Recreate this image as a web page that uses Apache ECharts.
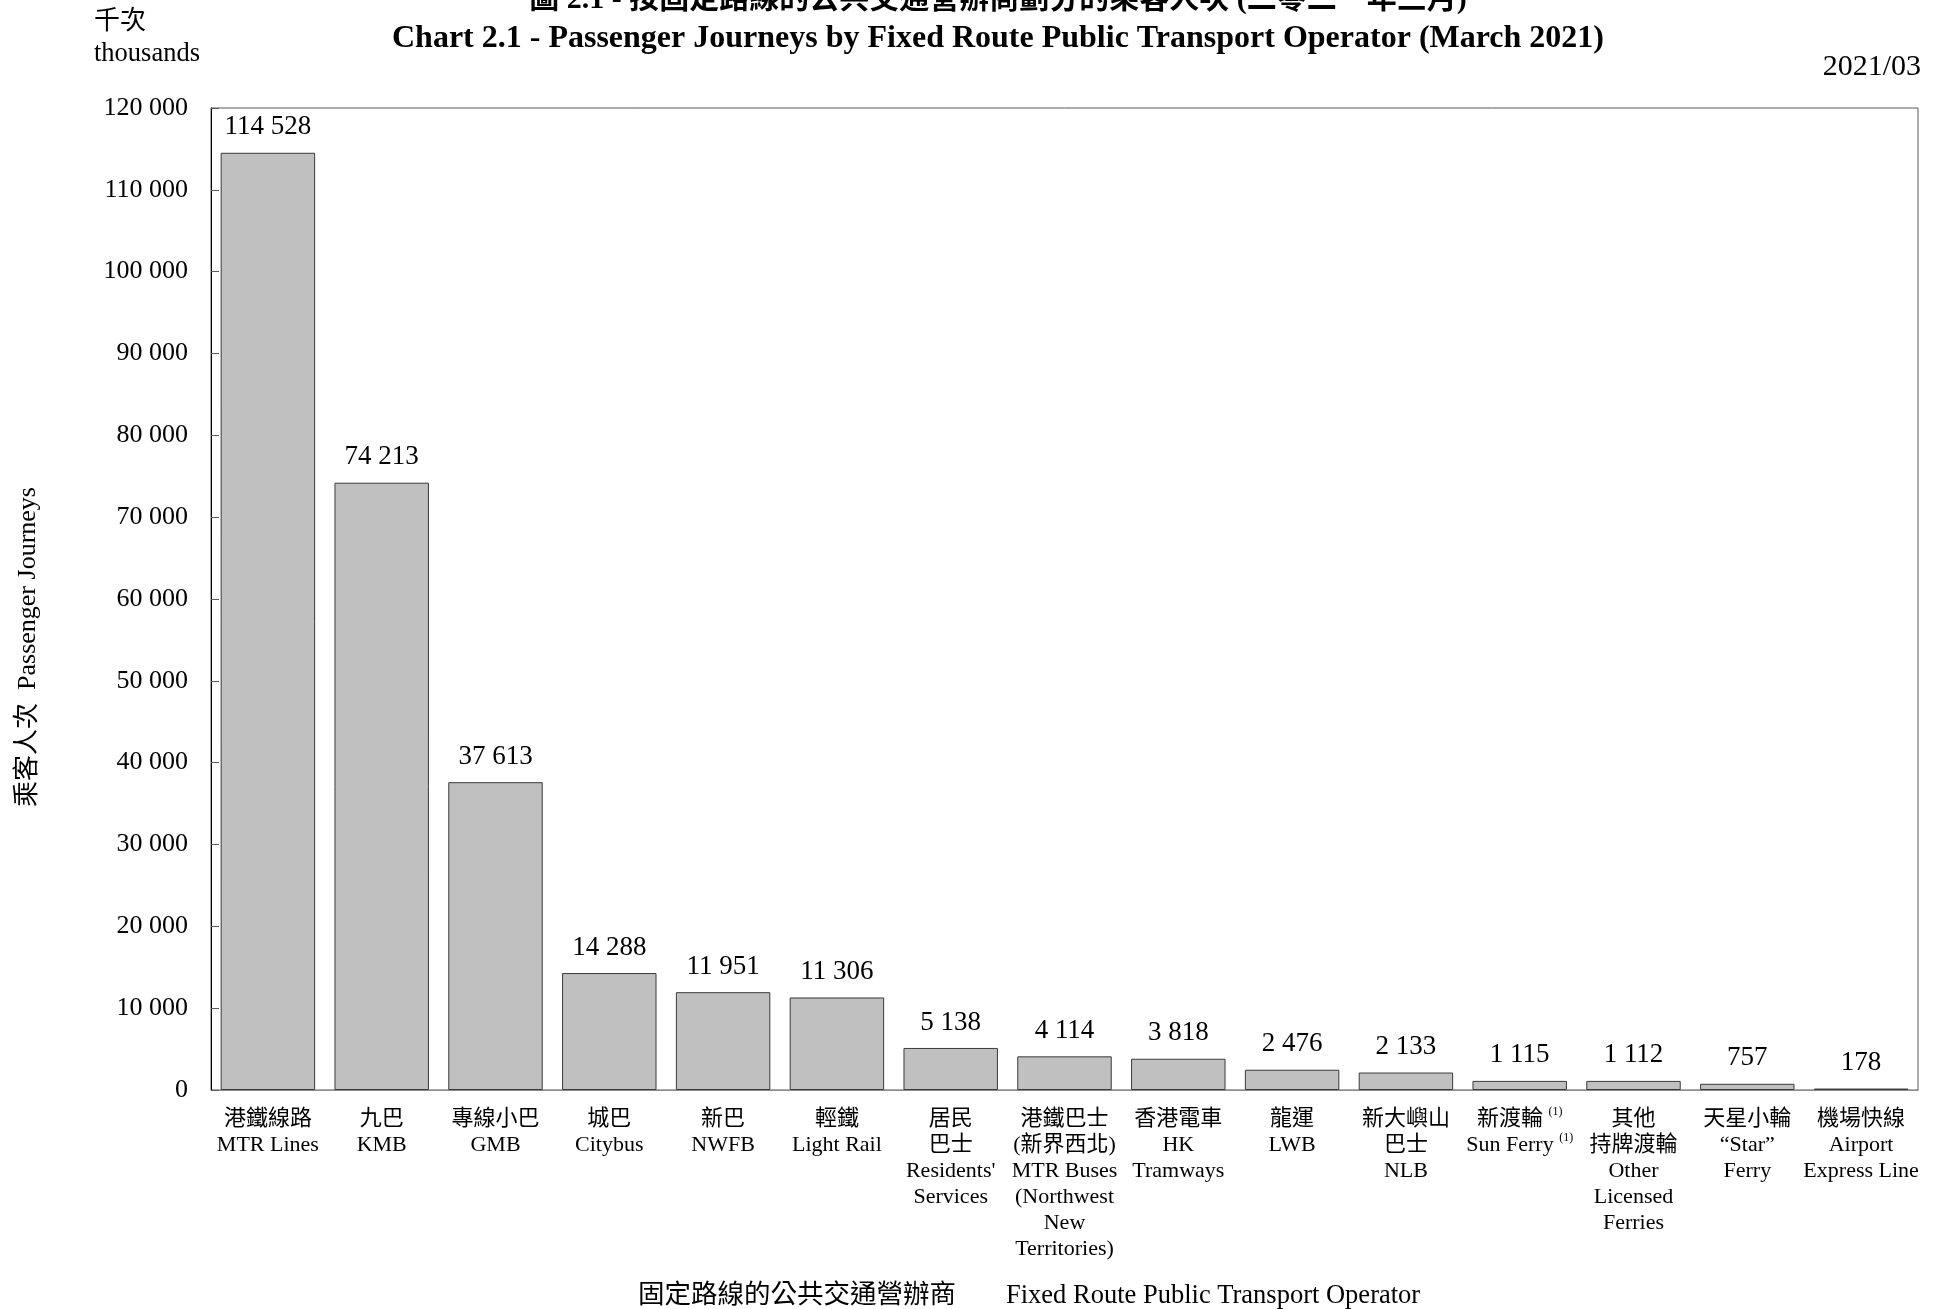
<!DOCTYPE html>
<html>
<head>
<meta charset="utf-8">
<script src="https://cdn.jsdelivr.net/npm/echarts@6/dist/echarts.min.js"></script>
<style>
html,body{margin:0;padding:0;background:#fff;}
#chart{width:1935px;height:1309px;}
</style>
</head>
<body>
<div id="chart"></div>
<script>
const categories = [
  '港鐵線路\nMTR Lines',
  '九巴\nKMB',
  '專線小巴\nGMB',
  '城巴\nCitybus',
  '新巴\nNWFB',
  '輕鐵\nLight Rail',
  '居民\n巴士\nResidents\'\nServices',
  '港鐵巴士\n(新界西北)\nMTR Buses\n(Northwest\nNew\nTerritories)',
  '香港電車\nHK\nTramways',
  '龍運\nLWB',
  '新大嶼山\n巴士\nNLB',
  '新渡輪 {sup|(1)}\nSun Ferry {sup|(1)}',
  '其他\n持牌渡輪\nOther\nLicensed\nFerries',
  '天星小輪\n“Star”\nFerry',
  '機場快線\nAirport\nExpress Line'
];
const journeys = [114528, 74213, 37613, 14288, 11951, 11306, 5138, 4114, 3818, 2476, 2133, 1115, 1112, 757, 178];
const yMin = 0, yMax = 120000, yStep = 10000;

const FONT = "'Liberation Serif', 'Times New Roman', 'Noto Sans CJK TC', serif";
const fmt = v => String(v).replace(/\B(?=(\d{3})+(?!\d))/g, ' ');

const chart = echarts.init(document.getElementById('chart'));
chart.setOption({
  backgroundColor: '#fff',
  animation: false,
  grid: {left: 211, right: 17, top: 108, bottom: 219, show: true, borderColor: '#595959', borderWidth: 1},
  xAxis: {
    type: 'category',
    data: categories,
    axisLine: {show: true, lineStyle: {color: '#8c8c8c', width: 1}},
    axisTick: {show: false},
    axisLabel: {
      interval: 0, margin: 16, color: '#000', fontFamily: FONT, fontSize: 22, lineHeight: 26,
      verticalAlign: 'top',
      rich: {sup: {fontSize: 12, fontFamily: FONT, verticalAlign: 'top', lineHeight: 14, color: '#000'}}
    }
  },
  yAxis: {
    type: 'value', min: yMin, max: yMax, interval: yStep,
    axisLine: {show: true, lineStyle: {color: '#000', width: 1}},
    axisTick: {show: true, inside: true, length: 8, lineStyle: {color: '#595959'}},
    splitLine: {show: false},
    axisLabel: {color: '#000', fontFamily: FONT, fontSize: 26, margin: 23, formatter: v => fmt(v)}
  },
  series: [{
    type: 'bar',
    data: journeys,
    barCategoryGap: '17%',
    itemStyle: {color: '#c0c0c0', borderColor: '#3a3a3a', borderWidth: 1},
    label: {show: true, position: 'top', distance: 12, color: '#000', fontFamily: FONT, fontSize: 27,
      formatter: p => fmt(p.value)}
  }],
  graphic: [
    {type: 'text', style: {text: '圖 2.1 - 按固定路線的公共交通營辦商劃分的乘客人次 (二零二一年三月)', x: 998, y: 0, textAlign: 'center', textVerticalAlign: 'middle', font: "bold 30px " + FONT, fill: '#000'}},
    {type: 'text', style: {text: 'Chart 2.1 - Passenger Journeys by Fixed Route Public Transport Operator (March 2021)', x: 998, y: 39, textAlign: 'center', textVerticalAlign: 'middle', font: "bold 32px " + FONT, fill: '#000'}},
    {type: 'text', style: {text: '千次', x: 94, y: 22, textAlign: 'left', textVerticalAlign: 'middle', font: "26px " + FONT, fill: '#000'}},
    {type: 'text', style: {text: 'thousands', x: 94, y: 54, textAlign: 'left', textVerticalAlign: 'middle', font: "26.5px " + FONT, fill: '#000'}},
    {type: 'text', style: {text: '2021/03', x: 1921, y: 67, textAlign: 'right', textVerticalAlign: 'middle', font: "30px " + FONT, fill: '#000'}},
    {type: 'text', x: 28, y: 647, rotation: Math.PI / 2, style: {text: '乘客人次  Passenger Journeys', x: 0, y: 0, textAlign: 'center', textVerticalAlign: 'middle', font: "26px " + FONT, fill: '#000'}},
    {type: 'text', style: {text: '固定路線的公共交通營辦商', x: 638, y: 1296, textAlign: 'left', textVerticalAlign: 'middle', font: "26.5px " + FONT, fill: '#000'}},
    {type: 'text', style: {text: 'Fixed Route Public Transport Operator', x: 1006, y: 1296, textAlign: 'left', textVerticalAlign: 'middle', font: "26.5px " + FONT, fill: '#000'}}
  ]
});
</script>
</body>
</html>
